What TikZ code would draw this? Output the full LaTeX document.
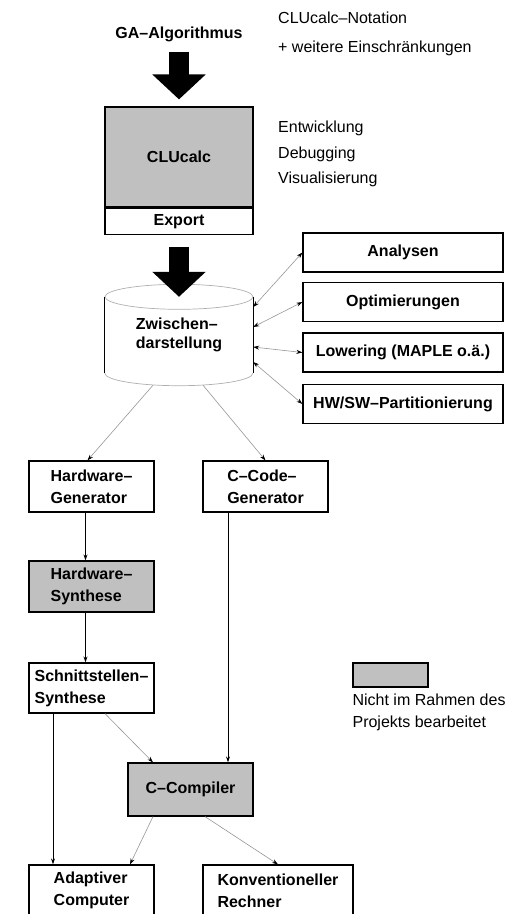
\documentclass[tikz,border=0pt]{standalone}
\usepackage{fontspec}
\setmainfont{Liberation Sans}
\usetikzlibrary{arrows.meta, positioning}
\definecolor{boxgray}{RGB}{192, 192, 192}
\definecolor{linkgray}{RGB}{150, 150, 150}
\definecolor{rimgray}{RGB}{175, 175, 175}

\begin{document}
\begin{tikzpicture}[x=1pt, y=-1pt,
  block/.style={draw, line width=1.2pt, minimum width=125pt, minimum height=51pt, inner sep=2pt, align=left, font=\fontsize{16}{22}\selectfont\bfseries},
  greyblock/.style={block, fill=boxgray},
  sidebox/.style={block, minimum width=200pt, minimum height=39pt, align=center},
  note/.style={anchor=north west, align=left, inner sep=0pt},
  bigarrow/.style={line width=20pt, -{Triangle[length=25pt, width=52pt]}},
  link/.style={line width=0.9pt, -{Stealth[length=6pt, width=4pt]}},
  glink/.style={draw=linkgray, line width=0.6pt, -{Stealth[length=6pt, width=4pt, color=black]}},
  dlink/.style={glink, {Stealth[length=6pt, width=4pt, color=black]}-{Stealth[length=6pt, width=4pt, color=black]}}]
  \useasboundingbox (0, 0) rectangle (531, 914);
  \clip (0, 0) rectangle (531, 914);

  % Input
  \node[font=\fontsize{16}{22}\selectfont\bfseries] (ga) at (179, 34.5) {GA--Algorithmus};
  \node[note, font=\fontsize{16}{29}\selectfont] (notation) at (278, 12) {CLUcalc--Notation\\+ weitere Einschränkungen};

  % CLUcalc
  \node[greyblock, minimum width=148pt, minimum height=100pt, align=center] (clu) at (179, 157) {CLUcalc};
  \node[block, minimum width=148pt, minimum height=26pt, inner sep=0pt, anchor=north] (export) at (clu.south) {Export};
  \node[note, font=\fontsize{16}{25.5}\selectfont] (features) at (278, 121) {Entwicklung\\Debugging\\Visualisierung};
  \draw[bigarrow, shorten <=6pt, shorten >=7pt] (ga) -- (clu);

  % Zwischendarstellung
  \node[minimum width=148pt, minimum height=76pt, align=left, font=\fontsize{16}{19.5}\selectfont\bfseries] (zw) at (179, 335) {Zwischen--\\darstellung};
  \draw[rimgray, line width=0.7pt] (zw.north) ellipse (74 and 12.5);
  \draw[rimgray, line width=0.7pt] (zw.south west) arc (180:0:74 and 12.5);
  \draw[line width=1.2pt] (zw.north west) -- (zw.south west) (zw.north east) -- (zw.south east);
  \draw[bigarrow, shorten <=12pt] (export) -- (zw.north);

  % Side tasks
  \node[sidebox] (analysen) at (403, 252.5) {Analysen};
  \node[sidebox] (optim) at (403, 302) {Optimierungen};
  \node[sidebox] (lowering) at (403, 352.5) {Lowering (MAPLE o.ä.)};
  \node[sidebox] (partition) at (403, 404) {HW/SW--Partitionierung};
  \draw[dlink] ([yshift=28pt]zw.east) -- (analysen.west);
  \draw[dlink] ([yshift=8pt]zw.east) -- (optim.west);
  \draw[dlink] ([yshift=-12pt]zw.east) -- (lowering.west);
  \draw[dlink] ([yshift=-27pt]zw.east) -- (partition.west);

  % Generators
  \node[block] (hwgen) at (91.5, 486.5) {Hardware--\\Generator};
  \node[block] (ccgen) at (265.5, 486.5) {C--Code--\\Generator};
  \draw[glink] ([xshift=-26pt, yshift=-12pt]zw.south) -- ([xshift=-4pt]hwgen.north);
  \draw[glink] ([xshift=24pt, yshift=-12pt]zw.south) -- (ccgen.north);

  % Hardware path
  \node[greyblock] (hwsyn) at (91.5, 586.5) {Hardware--\\Synthese};
  \node[block, minimum height=50pt] (schnitt) at (91.5, 688) {Schnittstellen--\\Synthese};
  \draw[link] ([xshift=-6pt]hwgen.south) -- ([xshift=-6pt]hwsyn.north);
  \draw[link] ([xshift=-6pt]hwsyn.south) -- ([xshift=-6pt]schnitt.north);

  % Compiler
  \node[greyblock, minimum height=53pt] (ccomp) at (190.5, 789.5) {C--Compiler};
  \draw[link] ([xshift=-37.5pt]ccgen.south) -- ([xshift=37.5pt]ccomp.north);
  \draw[glink] ([xshift=13.5pt]schnitt.south) -- ([xshift=-37.5pt]ccomp.north);

  % Targets
  \node[block] (adapt) at (91.5, 890.5) {Adaptiver\\Computer};
  \node[block, minimum width=150pt] (konv) at (278, 890.5) {Konventioneller\\Rechner};
  \draw[link] ([xshift=-38.5pt]schnitt.south) -- ([xshift=-38.5pt]adapt.north);
  \draw[glink] ([xshift=-37.5pt]ccomp.south) -- ([xshift=38.5pt]adapt.north);
  \draw[glink] ([xshift=14.5pt]ccomp.south) -- (konv.north);

  % Legend
  \node[draw, line width=1.2pt, fill=boxgray, minimum width=75pt, minimum height=24pt, inner sep=0pt] (legend) at (390.5, 675) {};
  \node[note, yshift=-6pt, font=\fontsize{16}{22}\selectfont] (legendtext) at (legend.south west) {Nicht im Rahmen des\\Projekts bearbeitet};
\end{tikzpicture}
\end{document}
